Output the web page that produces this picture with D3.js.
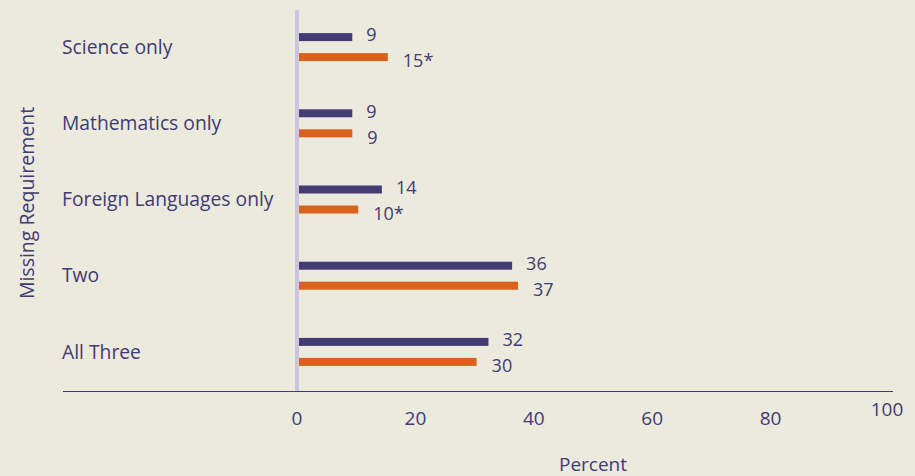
<!DOCTYPE html>
<html lang="en">
<head>
  <meta charset="UTF-8">
  <title>Missing Requirement</title>
  <script src="https://d3js.org/d3.v7.min.js"></script>
  <style>
    body { margin: 0; background: #ecE9dd; }
    text { font-family: "Open Sans", "Noto Sans", sans-serif; fill: #3f3b74; }
  </style>
</head>
<body>
  <svg id="chart" width="915" height="476"></svg>

  <script>
    // Data
    const categories = ['Science only', 'Mathematics only', 'Foreign Languages only', 'Two', 'All Three'];
    const seriesA = [9, 9, 14, 36, 32];
    const seriesB = [15, 9, 10, 37, 30];
    const labelsA = ['9', '9', '14', '36', '32'];
    const labelsB = ['15*', '9', '10*', '37', '30'];
    const xTicks = [0, 20, 40, 60, 80, 100];

    const svg = d3.select('#chart');
    const ink = '#3f3b74';
    const orange = '#d9621c';

    svg.append('rect').attr('width', 915).attr('height', 476).attr('fill', '#ece9dd');

    const x = d3.scaleLinear().domain([0, 100]).range([297, 889]);
    const y = d3.scaleBand().domain(categories).range([9, 390]);

    // baseline at zero
    svg.append('line')
      .attr('x1', x(0)).attr('x2', x(0))
      .attr('y1', 10).attr('y2', 392)
      .attr('stroke', '#c9c6de').attr('stroke-width', 4);

    // horizontal axis line
    svg.append('line')
      .attr('x1', 63).attr('x2', 893)
      .attr('y1', 391.5).attr('y2', 391.5)
      .attr('stroke', ink).attr('stroke-width', 1.2);

    const groups = svg.selectAll('g.cat')
      .data(categories)
      .enter().append('g')
      .attr('class', 'cat')
      .attr('transform', d => `translate(0,${y(d) + y.bandwidth() / 2})`);

    groups.append('text')
      .attr('x', 62).attr('y', 0)
      .attr('dy', '0.35em')
      .style('font-size', '19.3px')
      .text(d => d);

    groups.append('rect')
      .attr('x', x(0) + 2).attr('y', -14)
      .attr('height', 8)
      .attr('width', (d, i) => x(seriesA[i]) - x(0))
      .attr('fill', '#433c74');

    groups.append('rect')
      .attr('x', x(0) + 2).attr('y', 6)
      .attr('height', 8)
      .attr('width', (d, i) => x(seriesB[i]) - x(0))
      .attr('fill', orange);

    groups.append('text')
      .attr('x', (d, i) => x(seriesA[i]) + 16)
      .attr('y', -12).attr('dy', '0.35em')
      .style('font-size', '18px')
      .text((d, i) => labelsA[i]);

    groups.append('text')
      .attr('x', (d, i) => x(seriesB[i]) + 17)
      .attr('y', 14).attr('dy', '0.35em')
      .style('font-size', '18px')
      .text((d, i) => labelsB[i]);

    // tick labels (the 100 sits a little higher in the original)
    svg.selectAll('text.tick')
      .data(xTicks)
      .enter().append('text')
      .attr('class', 'tick')
      .attr('x', d => x(d) - (d === 100 ? 2 : 0))
      .attr('y', d => d === 100 ? 409 : 418)
      .attr('dy', '0.35em')
      .attr('text-anchor', 'middle')
      .style('font-size', '19px')
      .text(d => d);

    svg.append('text')
      .attr('x', 593).attr('y', 464)
      .attr('dy', '0.35em')
      .attr('text-anchor', 'middle')
      .style('font-size', '19px')
      .text('Percent');

    svg.append('text')
      .attr('transform', 'translate(27,203) rotate(-90)')
      .attr('dy', '0.35em')
      .attr('text-anchor', 'middle')
      .style('font-size', '19.5px')
      .text('Missing Requirement');
  </script>
</body>
</html>
